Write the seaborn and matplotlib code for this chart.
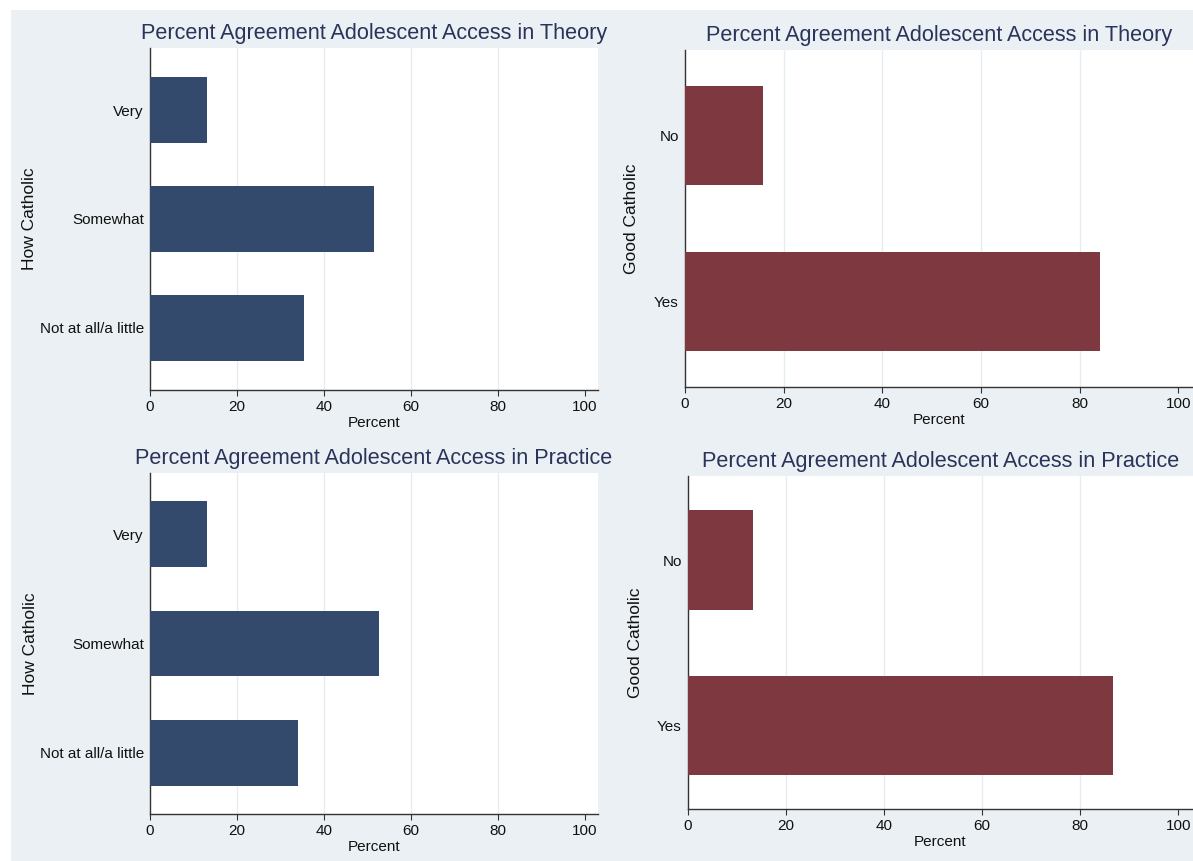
import matplotlib
matplotlib.use("Agg")
import matplotlib.pyplot as plt
import seaborn as sns
import pandas as pd
from matplotlib.patches import Rectangle

# ---- data ----
how_catholic = ["Very", "Somewhat", "Not at all/a little"]
theory_how = [13.1, 51.6, 35.3]
practice_how = [13.2, 52.7, 34.1]

good_catholic = ["No", "Yes"]
theory_good = [15.8, 84.2]
practice_good = [13.3, 86.7]

title_theory = "Percent Agreement Adolescent Access in Theory"
title_practice = "Percent Agreement Adolescent Access in Practice"
x_ticks = [0, 20, 40, 60, 80, 100]

# ---- style ----
sns.set_theme(style="white")
plt.rcParams["font.family"] = ["Liberation Sans", "DejaVu Sans"]

BG = "#EAF0F3"
NAVY = "#334A6D"
MAROON = "#7D3840"
TITLE_C = "#2A3359"
GRID_C = "#E6EDF0"
AX_C = "#333333"

W, H = 1193, 861
fig = plt.figure(figsize=(W / 100, H / 100), dpi=100, facecolor=BG)

# white margins (top and left) like the reference
fig.patches.append(Rectangle((0, 1 - 10 / H), 1, 10 / H, transform=fig.transFigure,
                             facecolor="white", edgecolor="none", zorder=0))
fig.patches.append(Rectangle((0, 0), 11 / W, 1, transform=fig.transFigure,
                             facecolor="white", edgecolor="none", zorder=0))


def make_axes(left, right, top, bottom):
    return fig.add_axes([left / W, 1 - bottom / H, (right - left) / W, (bottom - top) / H])


panels = [
    # (px box, categories, values, color, ylabel, title, ylim, ylabel_right_edge_px)
    ((150, 598, 48, 390), how_catholic, theory_how, NAVY, "How Catholic", title_theory, (2.57, -0.57), 37),
    ((685, 1193, 50, 387), good_catholic, theory_good, MAROON, "Good Catholic", title_theory, (1.515, -0.515), 639),
    ((150, 598, 473, 814), how_catholic, practice_how, NAVY, "How Catholic", title_practice, (2.56, -0.56), 38),
    ((688, 1193, 476, 809), good_catholic, practice_good, MAROON, "Good Catholic", title_practice, (1.505, -0.508), 643),
]

for (box, cats, vals, col, ylab, ttl, ylim, ylx) in panels:
    left, right, top, bottom = box
    ax = make_axes(left, right, top, bottom)
    ax.set_facecolor("white")
    df = pd.DataFrame({"cat": cats, "pct": vals})
    sns.barplot(data=df, x="pct", y="cat", orient="h", color=col, saturation=1,
                width=0.6, edgecolor="none", ax=ax, zorder=3)
    ax.set_xlim(0, 103)
    ax.set_ylim(*ylim)
    ax.set_xticks(x_ticks)
    for g in [20, 40, 60, 80]:
        ax.axvline(g, color=GRID_C, lw=1.0, zorder=1)
    for s in ["top", "right"]:
        ax.spines[s].set_visible(False)
    for s in ["left", "bottom"]:
        ax.spines[s].set_color(AX_C)
        ax.spines[s].set_linewidth(1.0)
    ax.tick_params(axis="x", length=4, width=0.8, color=AX_C, pad=3, labelsize=11,
                   labelcolor="#111111", bottom=True)
    ax.tick_params(axis="y", length=0, pad=4.5, labelsize=11, labelcolor="#111111")
    ax.set_xlabel("Percent", fontsize=11, color="#111111", labelpad=1.5)
    ax.set_ylabel(ylab, fontsize=12.5, color="#111111")
    ax.yaxis.set_label_coords((ylx - left) / (right - left), 0.5)
    ax.set_title(ttl, fontsize=15.6, color=TITLE_C, pad=6.3)

fig.savefig("out.png", dpi=100, facecolor=BG)
